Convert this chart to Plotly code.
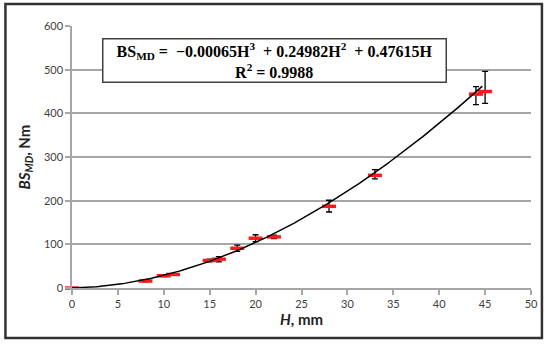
import numpy as np
import plotly.graph_objects as go

# Data
H_mm = [0, 8, 10, 11, 15, 16, 18, 20, 22, 28, 33, 44, 45]
BS_Nm = [0, 16, 28, 31, 63, 66, 91, 114, 117, 187, 258, 444, 450]
err_plus = [0, 2, 2, 2, 3, 6, 7, 8, 4, 14, 13, 17, 46]
err_minus = [0, 2, 2, 2, 3, 6, 7, 8, 4, 13, 8, 24, 27]

# Trendline coefficients as shown in the equation
coef_a3, coef_a2, coef_a1 = -0.00065, 0.24982, 0.47615
x_ticks = list(range(0, 51, 5))
y_ticks = list(range(0, 601, 100))

hx = np.linspace(0, 44.7, 200)
hy = coef_a3 * hx**3 + coef_a2 * hx**2 + coef_a1 * hx

fig = go.Figure()
fig.add_trace(go.Scatter(
    x=H_mm, y=BS_Nm, mode="markers",
    marker=dict(symbol="line-ew", size=10, color="red",
                line=dict(color="#ff1a1a", width=3.5)),
    error_y=dict(type="data", symmetric=False, array=err_plus, arrayminus=err_minus,
                 color="black", thickness=1.3, width=3),
    cliponaxis=False, showlegend=False,
))
fig.add_trace(go.Scatter(
    x=hx, y=hy, mode="lines", line=dict(color="black", width=1.5),
    showlegend=False, hoverinfo="skip",
))

grid = "#a6a6a6"
fig.update_layout(
    width=550, height=344,
    margin=dict(l=72, r=16, t=26, b=56),
    paper_bgcolor="white", plot_bgcolor="white",
    font=dict(family="Lato, Liberation Sans, sans-serif", color="#404040"),
    xaxis=dict(range=[0, 50], tickvals=x_ticks, showgrid=False,
               showline=True, linecolor=grid, linewidth=1.5,
               ticks="outside", ticklen=5, tickcolor=grid, tickwidth=1.5,
               tickfont=dict(size=11, color="#404040"),
               title=dict(text="<b><i>H</i>, mm</b>", font=dict(size=15, color="#222"), standoff=6),
               zeroline=False),
    yaxis=dict(range=[0, 600], tickvals=y_ticks, showgrid=True, gridcolor=grid, gridwidth=1.5,
               showline=True, linecolor=grid, linewidth=1.5,
               ticks="outside", ticklen=5, tickcolor=grid, tickwidth=1.5,
               tickfont=dict(size=11, color="#404040"),
               title=dict(text="<b><i>BS<sub>MD</sub></i>, Nm</b>", font=dict(size=15, color="#222"), standoff=10),
               zeroline=False),
)

# Equation box
fig.add_annotation(
    xref="paper", yref="paper", x=(276 - 72) / 462, y=(288 - 61) / 262,
    xanchor="center", yanchor="middle", showarrow=False,
    text="<b>BS<sub>MD</sub> =  −0.00065H<sup>3</sup>  + 0.24982H<sup>2</sup>  + 0.47615H<br>R<sup>2</sup> = 0.9988</b>",
    font=dict(family="Liberation Serif, serif", size=16, color="black"),
    bgcolor="white", bordercolor="#404040", borderwidth=1.5,
    width=340, height=40, align="center",
)

# Outer frame
fig.add_shape(type="rect", xref="paper", yref="paper",
              x0=(5 - 72) / 462, x1=(545 - 72) / 462,
              y0=(288 - 338) / 262, y1=(288 - 4) / 262,
              line=dict(color="#333333", width=2.5), layer="above")

fig.write_html("out.html", config={"displayModeBar": False},
               post_script="document.body.style.margin='0';document.body.style.overflow='hidden';")
